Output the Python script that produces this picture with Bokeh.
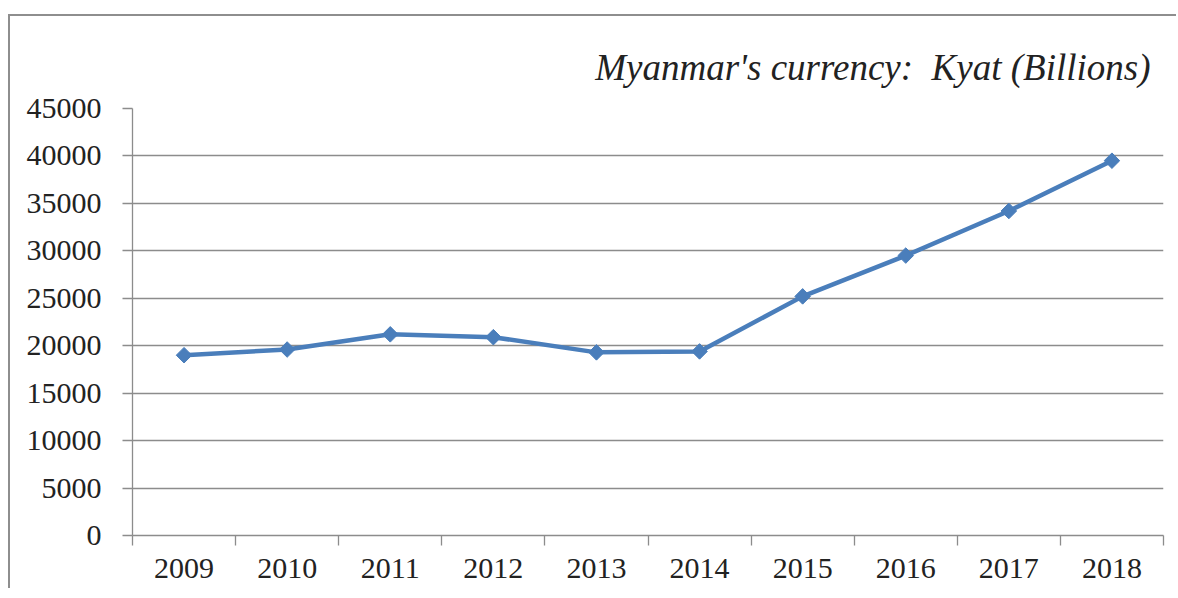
import math
from bokeh.plotting import figure
from bokeh.models import FixedTicker, Range1d, Title
from bokeh.embed import file_html
from bokeh.resources import INLINE

years = ["2009", "2010", "2011", "2012", "2013", "2014", "2015", "2016", "2017", "2018"]
values = [19000, 19600, 21200, 20900, 19300, 19400, 25200, 29500, 34200, 39500]
y_ticks = [0, 5000, 10000, 15000, 20000, 25000, 30000, 35000, 40000, 45000]
title_text = "Myanmar's currency:\u00a0 Kyat (Billions)"

n = len(years)
xs = [i + 0.5 for i in range(n)]

GRAY = "#8c8c8c"
TEXT = "#222222"
LINE = "#4A7EBB"
FONT = "Liberation Serif"

p = figure(
    width=1168, height=574,
    x_range=Range1d(0, n), y_range=Range1d(0, 45000),
    output_backend="svg", toolbar_location=None,
    min_border_left=122, min_border_right=15,
    min_border_top=92, min_border_bottom=55,
)
p.styles = {"margin-top": "14px", "margin-left": "8px",
            "border-top": "2px solid #8e8e8e", "border-left": "2px solid #8e8e8e"}
p.outline_line_color = None
p.background_fill_color = "white"
p.border_fill_color = "white"

p.title = Title(text=title_text, align="right", text_font=FONT, text_font_style="italic",
                text_font_size="37px", text_color=TEXT, offset=13, standoff=42)

# x axis
p.xaxis.ticker = FixedTicker(ticks=xs, minor_ticks=list(range(n + 1)))
p.xaxis.major_label_overrides = {x: y for x, y in zip(xs, years)}
p.xaxis.major_tick_out = 0
p.xaxis.major_tick_in = 0
p.xaxis.minor_tick_out = 10
p.xaxis.minor_tick_in = 0
p.xaxis.minor_tick_line_color = GRAY
p.xaxis.minor_tick_line_width = 1.3
p.xaxis.axis_line_color = GRAY
p.xaxis.axis_line_width = 1.3
p.xaxis.major_label_text_font = FONT
p.xaxis.major_label_text_font_size = "30px"
p.xaxis.major_label_text_color = TEXT
p.xaxis.major_label_standoff = 13
p.xgrid.visible = False

# y axis
p.yaxis.ticker = FixedTicker(ticks=y_ticks, minor_ticks=[])
p.yaxis.major_tick_out = 10
p.yaxis.major_tick_in = 0
p.yaxis.major_tick_line_color = GRAY
p.yaxis.major_tick_line_width = 1.3
p.yaxis.axis_line_color = GRAY
p.yaxis.axis_line_width = 1.3
p.yaxis.major_label_text_font = FONT
p.yaxis.major_label_text_font_size = "30px"
p.yaxis.major_label_text_color = TEXT
p.yaxis.major_label_standoff = 21
p.ygrid.ticker = FixedTicker(ticks=y_ticks)
p.ygrid.grid_line_color = GRAY
p.ygrid.grid_line_width = 1.3

p.line(xs, values, line_color=LINE, line_width=4.5)
p.scatter(xs, values, marker="square", angle=math.pi / 4, size=11,
          fill_color=LINE, line_color=LINE)

open("out.html", "w").write(file_html(p, INLINE))
